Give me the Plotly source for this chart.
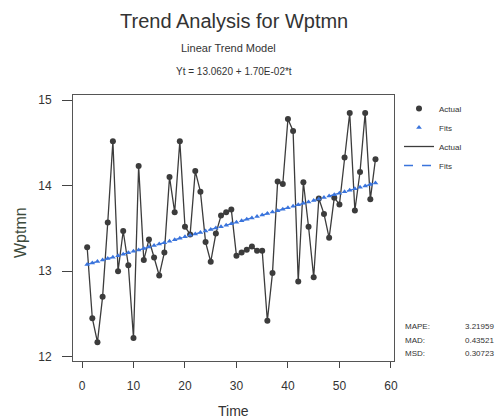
import plotly.graph_objects as go

t = list(range(1, 58))
actual = [13.28, 12.45, 12.17, 12.70, 13.57, 14.52, 13.00, 13.47, 13.07, 12.22,
          14.23, 13.13, 13.37, 13.16, 12.95, 13.22, 14.10, 13.69, 14.52, 13.52,
          13.43, 14.17, 13.93, 13.34, 13.11, 13.44, 13.65, 13.69, 13.72, 13.18,
          13.22, 13.25, 13.29, 13.24, 13.24, 12.42, 12.98, 14.05, 14.02, 14.78,
          14.64, 12.88, 14.04, 13.52, 12.93, 13.85, 13.67, 13.39, 13.86, 13.78,
          14.33, 14.85, 13.71, 14.16, 14.85, 13.84, 14.31]
intercept = 13.0620
slope = 0.0170
fits = [intercept + slope * ti for ti in t]

stat_labels = ["MAPE:", "MAD:", "MSD:"]
stat_values = ["3.21959", "0.43521", "0.30723"]

x_ticks = [0, 10, 20, 30, 40, 50, 60]
y_ticks = [12, 13, 14, 15]

FONT = "Liberation Sans Narrow, Liberation Sans, Arial, sans-serif"
GRAY = "#3c3c3c"
BLUE = "#3a74dc"

fig = go.Figure()
fig.add_trace(go.Scatter(x=t, y=actual, mode="lines", name="Actual",
                         line=dict(color=GRAY, width=1.3), legendrank=3))
fig.add_trace(go.Scatter(x=t, y=fits, mode="lines", name="Fits",
                         line=dict(color=BLUE, width=1.3, dash="dash"), legendrank=4))
fig.add_trace(go.Scatter(x=t, y=actual, mode="markers", name="Actual",
                         marker=dict(color=GRAY, size=6, symbol="circle"), legendrank=1))
fig.add_trace(go.Scatter(x=t, y=fits, mode="markers", name="Fits",
                         marker=dict(color=BLUE, size=5, symbol="triangle-up"), legendrank=2))

annotations = [
    dict(text="Trend Analysis for Wptmn", x=0.5, y=(361 - 21) / 266, font=dict(size=20, color="#333", family=FONT)),
    dict(text="Linear Trend Model", x=0.485, y=(361 - 48) / 266, font=dict(size=11, color="#333", family=FONT)),
    dict(text="Yt = 13.0620 + 1.70E-02*t", x=0.5, y=(361 - 71) / 266, font=dict(size=10, color="#333", family=FONT)),
    dict(text="Time", x=0.5, y=(361 - 411) / 266, font=dict(size=14, color="#333", family=FONT)),
    dict(text="Wptmn", x=(20 - 73) / 321, y=(361 - 233) / 266, textangle=-90,
         font=dict(size=16, color="#3c4a3c", family=FONT)),
]
for a in annotations:
    a.update(xref="paper", yref="paper", showarrow=False, xanchor="center", yanchor="middle")

stat_y = [326, 340, 353]
for lab, val, py in zip(stat_labels, stat_values, stat_y):
    annotations.append(dict(text=lab, x=(403 - 73) / 321, y=(361 - py) / 266, xref="paper", yref="paper",
                            showarrow=False, xanchor="left", yanchor="middle",
                            font=dict(size=8, color="#333", family=FONT)))
    annotations.append(dict(text=val, x=(496 - 73) / 321, y=(361 - py) / 266, xref="paper", yref="paper",
                            showarrow=False, xanchor="right", yanchor="middle",
                            font=dict(size=8, color="#333", family=FONT)))

fig.update_layout(
    width=500, height=420,
    margin=dict(l=73, r=106, t=95, b=59),
    paper_bgcolor="white", plot_bgcolor="white",
    showlegend=True,
    legend=dict(x=(399 - 73) / 321, y=(361 - 94) / 266, xanchor="left", yanchor="top",
                font=dict(size=8, color="#333", family=FONT), bgcolor="rgba(0,0,0,0)",
                tracegroupgap=0, itemwidth=30),
    annotations=annotations,
    xaxis=dict(range=[-1.75, 60.6], tickvals=x_ticks, ticks="outside", ticklen=6,
               tickcolor="#444", showline=True, linecolor="#555", mirror=True, showgrid=False,
               zeroline=False, ticklabelstandoff=8, tickfont=dict(size=12, color="#333", family=FONT)),
    yaxis=dict(range=[11.95, 15.06], tickvals=y_ticks, ticks="outside", ticklen=10,
               tickcolor="#444", showline=True, linecolor="#555", mirror=True, showgrid=False,
               zeroline=False, ticklabelstandoff=8, tickfont=dict(size=12, color="#333", family=FONT)),
)

fig.write_html("out.html")
